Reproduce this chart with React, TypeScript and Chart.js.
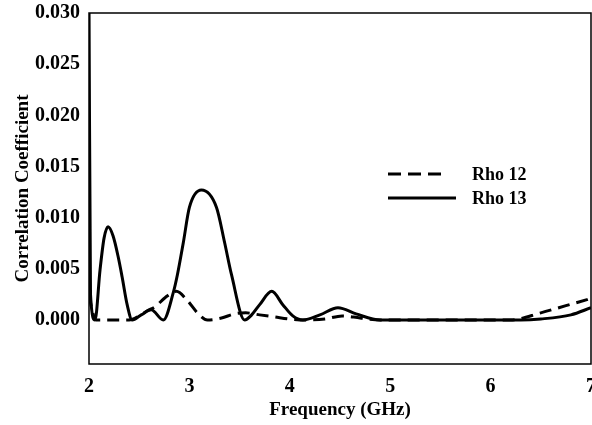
import { useEffect, useRef } from "react";
import { Chart, registerables } from "chart.js";

Chart.register(...registerables);

// Rho 13 (solid)
const freq13 = [2.0, 2.015, 2.06, 2.11, 2.15, 2.19, 2.24, 2.29, 2.33, 2.38, 2.43, 2.52, 2.62, 2.74, 2.84, 2.88, 2.94, 3.0, 3.12, 3.27, 3.35, 3.42, 3.55, 3.62, 3.7, 3.82, 3.93, 4.03, 4.13, 4.3, 4.48, 4.66, 4.9, 5.5, 6.0, 6.3, 6.5, 6.8, 7.0];
const rho13 = [0.031, 0.0025, 0.0, 0.0049, 0.008, 0.0091, 0.0082, 0.0062, 0.0042, 0.0015, 0.0, 0.0005, 0.001, 0.0, 0.0027, 0.0044, 0.0076, 0.011, 0.0127, 0.011, 0.0076, 0.0044, 0.0, 0.0005, 0.0015, 0.0028, 0.0015, 0.0004, 0.0, 0.0005, 0.0012, 0.0006, 0.0, 0.0, 0.0, 0.0, 0.0001, 0.0005, 0.0012];

// Rho 12 (dashed)
const freq12 = [2.0, 2.03, 2.07, 2.25, 2.4, 2.5, 2.58, 2.66, 2.76, 2.87, 2.98, 3.08, 3.18, 3.32, 3.45, 3.56, 3.7, 3.85, 4.0, 4.15, 4.35, 4.52, 4.7, 4.9, 5.5, 6.0, 6.2, 6.5, 6.75, 7.0];
const rho12 = [0.0025, 0.001, 0.0, 0.0, 0.0, 0.0004, 0.0009, 0.0013, 0.0022, 0.0028, 0.0019, 0.0007, 0.0, 0.0002, 0.0006, 0.0007, 0.0005, 0.0003, 0.0001, 0.0, 0.0001, 0.0004, 0.0002, 0.0, 0.0, 0.0, 0.0, 0.0007, 0.0014, 0.0021];

const yTicks = [0, 0.005, 0.01, 0.015, 0.02, 0.025, 0.03];
const xTicks = [2, 3, 4, 5, 6, 7];
const seriesNames = ["Rho 12", "Rho 13"];

const FONT = "'Liberation Serif', 'Times New Roman', serif";

const framePlugin = {
  id: "frameAndLegend",
  afterDraw(chart: any) {
    const { ctx, chartArea } = chart;
    const { left, top, right, bottom } = chartArea;
    ctx.save();
    ctx.strokeStyle = "#000";
    ctx.lineWidth = 1.5;
    ctx.setLineDash([]);
    ctx.strokeRect(left, top, right - left, bottom - top);

    // legend
    ctx.lineWidth = 3;
    ctx.setLineDash([13, 7]);
    ctx.beginPath();
    ctx.moveTo(left + 299, top + 161);
    ctx.lineTo(left + 359, top + 161);
    ctx.stroke();
    ctx.setLineDash([]);
    ctx.beginPath();
    ctx.moveTo(left + 299, top + 185);
    ctx.lineTo(left + 367, top + 185);
    ctx.stroke();
    ctx.fillStyle = "#000";
    ctx.font = `bold 18px ${FONT}`;
    ctx.textBaseline = "middle";
    ctx.textAlign = "left";
    ctx.fillText(seriesNames[0], left + 383, top + 162);
    ctx.fillText(seriesNames[1], left + 383, top + 186);
    ctx.restore();
  },
};

export default function App() {
  const ref = useRef<HTMLCanvasElement | null>(null);
  useEffect(() => {
    if (!ref.current) return;
    const chart = new Chart(ref.current, {
      type: "line",
      data: {
        datasets: [
          {
            label: seriesNames[0],
            data: freq12.map((f, i) => ({ x: f, y: rho12[i] })),
            borderColor: "#000",
            borderWidth: 3,
            borderDash: [12, 7],
            pointRadius: 0,
            fill: false,
            cubicInterpolationMode: "monotone",
          },
          {
            label: seriesNames[1],
            data: freq13.map((f, i) => ({ x: f, y: rho13[i] })),
            borderColor: "#000",
            borderWidth: 3,
            pointRadius: 0,
            fill: false,
            cubicInterpolationMode: "monotone",
          },
        ],
      },
      options: {
        animation: false,
        responsive: false,
        devicePixelRatio: 1,
        layout: { padding: { left: 0, top: 13, right: 9, bottom: 0 } },
        plugins: { legend: { display: false }, tooltip: { enabled: false } },
        scales: {
          x: {
            type: "linear",
            min: 2,
            max: 7,
            afterBuildTicks: (s: any) => {
              s.ticks = xTicks.map((v) => ({ value: v }));
            },
            afterFit: (s: any) => {
              s.height = 61;
              s.paddingLeft = 0;
              s.paddingRight = 0;
            },
            grid: { display: false, drawTicks: false },
            border: { display: false },
            ticks: {
              color: "#000",
              padding: 11,
              font: { family: FONT, size: 20, weight: "bold" },
              maxRotation: 0,
            },
            title: {
              display: true,
              text: "Frequency (GHz)",
              color: "#000",
              font: { family: FONT, size: 19, weight: "bold" },
              padding: { top: 4, bottom: 4 },
            },
          },
          y: {
            type: "linear",
            min: -0.0043,
            max: 0.03,
            afterBuildTicks: (s: any) => {
              s.ticks = yTicks.map((v) => ({ value: v }));
            },
            afterFit: (s: any) => {
              s.width = 89;
              s.paddingTop = 0;
              s.paddingBottom = 0;
            },
            grid: { display: false, drawTicks: false },
            border: { display: false },
            ticks: {
              color: "#000",
              padding: 9,
              font: { family: FONT, size: 20, weight: "bold" },
              callback: (v: any) => Number(v).toFixed(3),
            },
            title: {
              display: true,
              text: "Correlation Coefficient",
              color: "#000",
              font: { family: FONT, size: 19, weight: "bold" },
              padding: { top: 12, bottom: 0 },
            },
          },
        },
      },
      plugins: [framePlugin],
    });
    return () => chart.destroy();
  }, []);

  return (
    <div style={{ position: "fixed", left: 0, top: 0, width: 592, height: 425, overflow: "hidden", background: "#fff" }}>
      <canvas ref={ref} width={600} height={425} style={{ display: "block", width: 600, height: 425 }} />
    </div>
  );
}
